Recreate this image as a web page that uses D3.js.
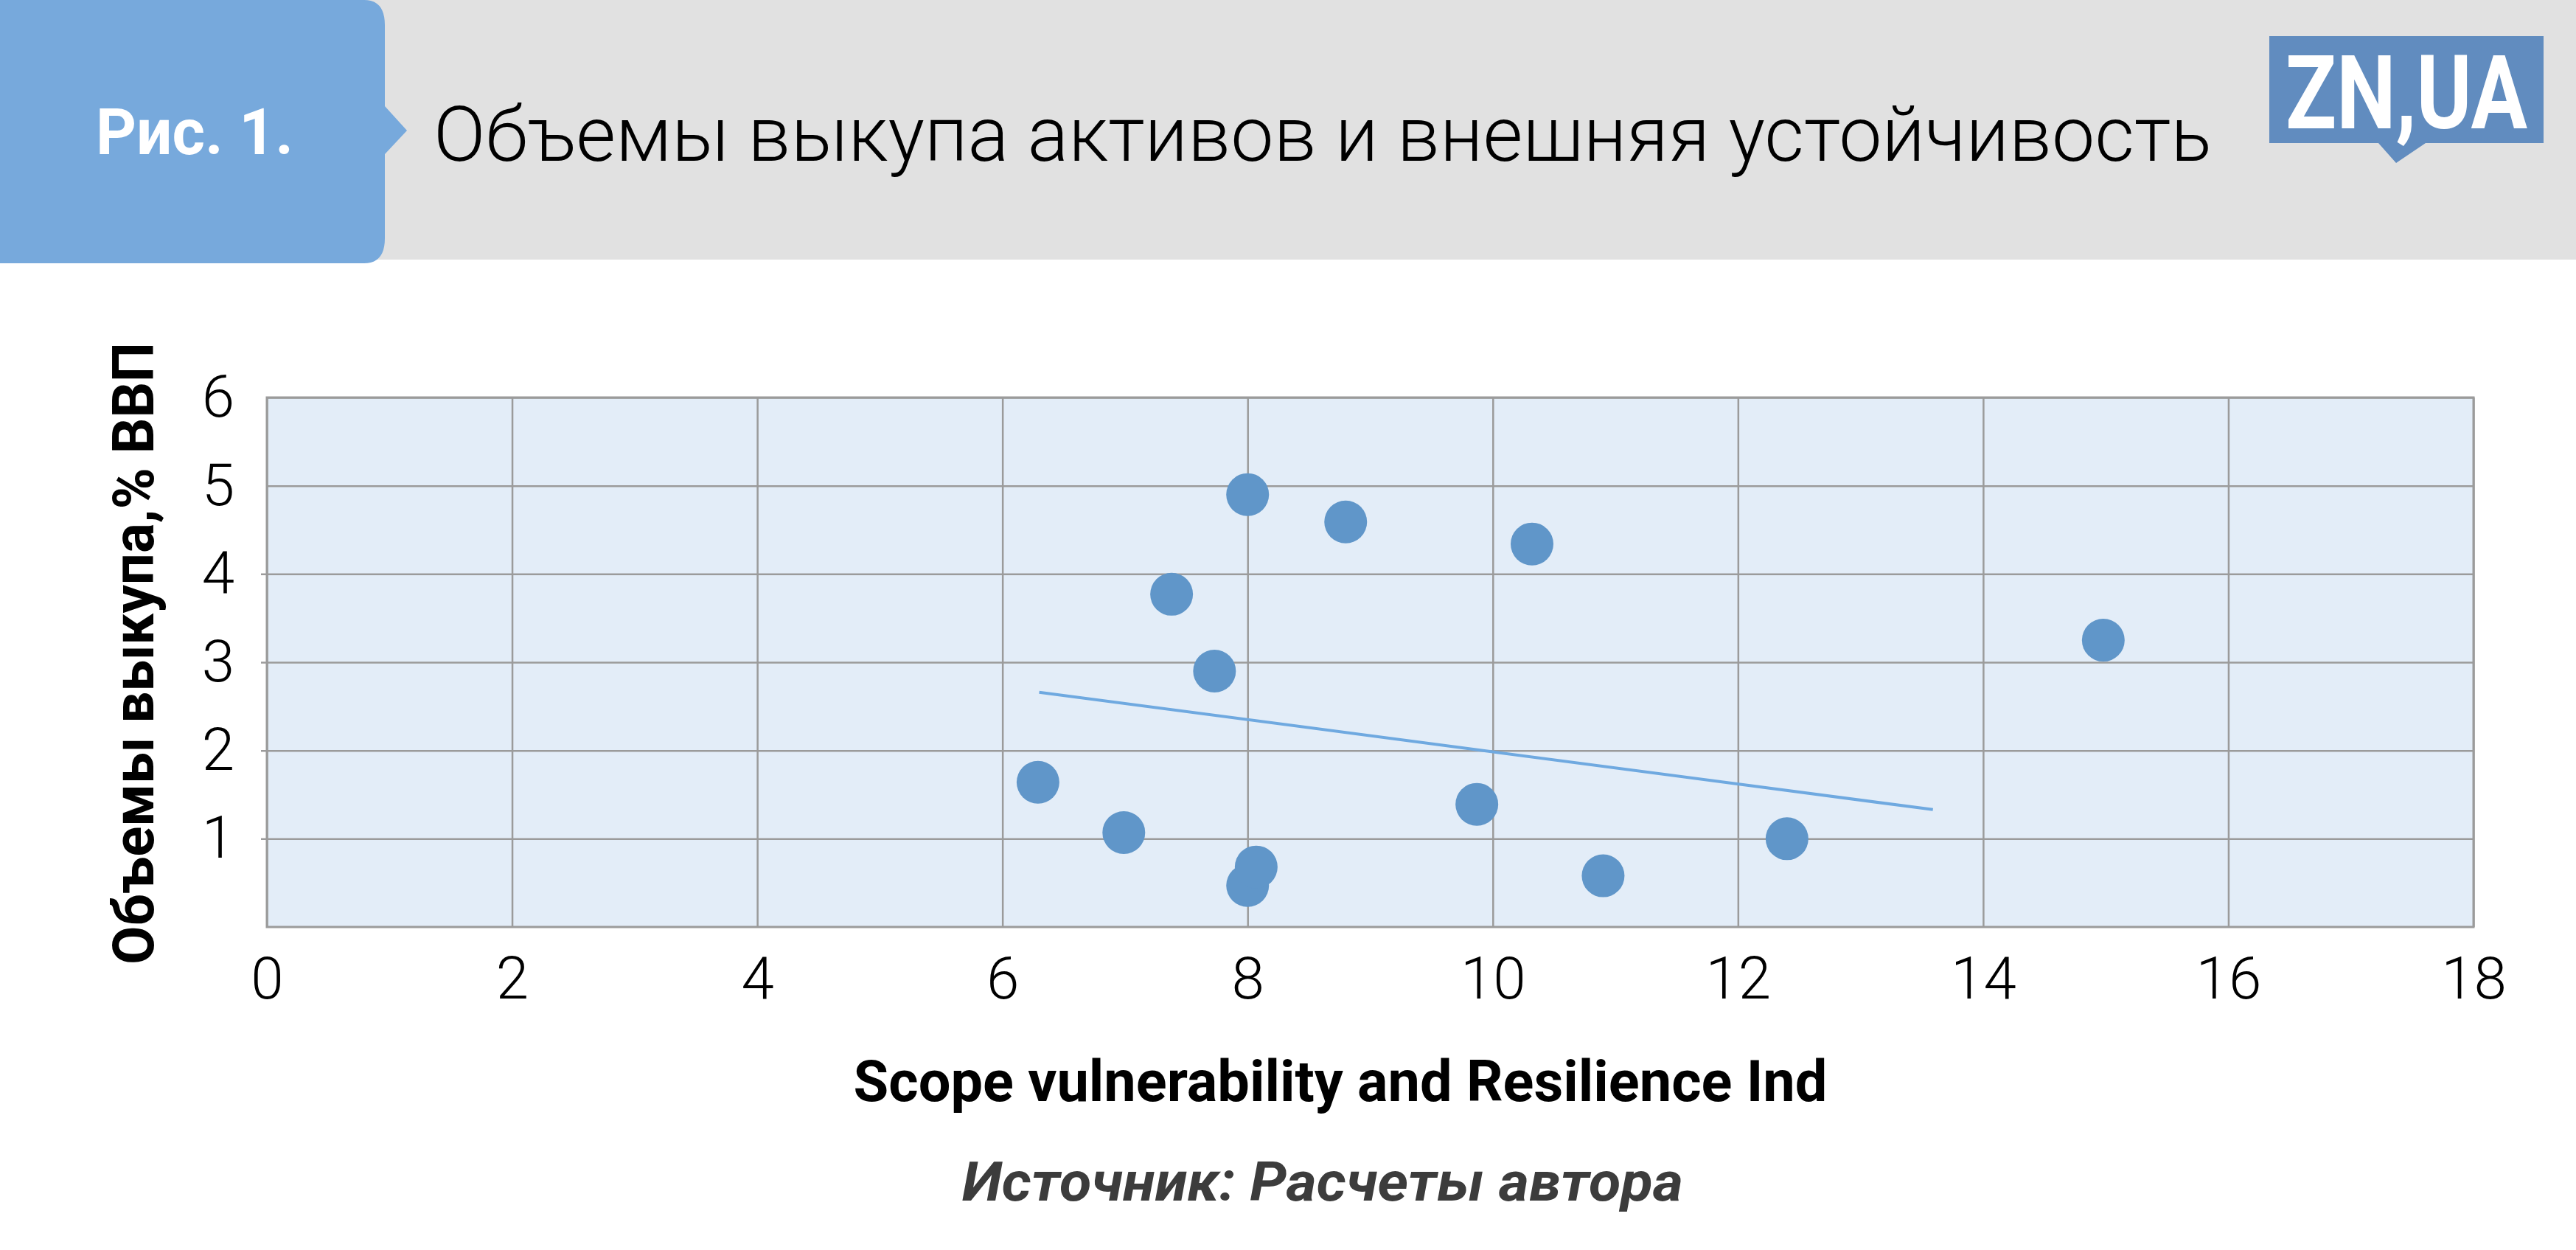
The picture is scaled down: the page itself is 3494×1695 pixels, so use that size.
<!DOCTYPE html>
<html>
<head>
<meta charset="utf-8">
<script src="https://cdn.jsdelivr.net/npm/d3@7"></script>
<style>
  body { margin: 0; background: #fff; }
  svg { display: block; }
  text { font-family: Roboto, "Open Sans", sans-serif; }
</style>
</head>
<body>
<div id="chart"></div>
<script>
// data
var xValues = [8.00, 8.80, 10.32, 7.38, 7.73, 6.29, 6.99, 9.87, 12.40, 8.00, 8.07, 10.90, 14.98];
var yValues = [4.90, 4.59, 4.34, 3.77, 2.90, 1.64, 1.07, 1.39, 1.00, 0.47, 0.68, 0.58, 3.25];
var trendX = [6.30, 13.59];
var trendY = [2.66, 1.33];
var xTicks = [0, 2, 4, 6, 8, 10, 12, 14, 16, 18];
var yTicks = [1, 2, 3, 4, 5, 6];

var W = 3494, H = 1695;
var margin = {top: 539, left: 362, right: W - 3355, bottom: H - 1257};
var plotW = W - margin.left - margin.right,
    plotH = H - margin.top - margin.bottom;

var svg = d3.select("#chart").append("svg").attr("width", W).attr("height", H);

// header
svg.append("rect").attr("x", 0).attr("y", 0).attr("width", W).attr("height", 352).attr("fill", "#e1e1e1");
svg.append("path")
  .attr("d", "M0,0 H494 Q522,0 522,34 V144 L552,177 L522,209 V323 Q522,357 494,357 H0 Z")
  .attr("fill", "#77a9dc");
svg.append("text").attr("x", 130).attr("y", 209).text("Рис. 1.")
  .attr("fill", "#fff").attr("font-size", 88).attr("font-weight", 700)
  .attr("textLength", 268).attr("lengthAdjust", "spacingAndGlyphs");
svg.append("text").attr("x", 588).attr("y", 218).text("Объемы выкупа активов и внешняя устойчивость")
  .attr("fill", "#000").attr("font-size", 103).attr("font-weight", 300)
  .attr("textLength", 2412).attr("lengthAdjust", "spacingAndGlyphs");

// logo
var logo = svg.append("g");
logo.append("path")
  .attr("d", "M3078,49 H3450 V194 H3290 L3250,221 L3226,194 H3078 Z")
  .attr("fill", "#618cbf");
logo.append("text").attr("x", 3100).attr("y", 174).text("ZN,UA")
  .attr("fill", "#fff").attr("font-size", 140).attr("font-weight", 700)
  .attr("textLength", 328).attr("lengthAdjust", "spacingAndGlyphs");

// plot
var x = d3.scaleLinear().domain([0, 18]).range([0, plotW]);
var y = d3.scaleLinear().domain([0, 6]).range([plotH, 0]);

var g = svg.append("g").attr("transform", "translate(" + margin.left + "," + margin.top + ")");
g.append("rect").attr("width", plotW).attr("height", plotH).attr("fill", "#e3edf8");

var xAxis = g.append("g").attr("transform", "translate(0," + plotH + ")")
  .call(d3.axisBottom(x).tickValues(xTicks).tickFormat(d3.format("d")).tickSize(-plotH).tickPadding(40));
var yAxis = g.append("g")
  .call(d3.axisLeft(y).tickValues(yTicks).tickFormat(d3.format("d")).tickSize(-plotW).tickPadding(44));

[xAxis, yAxis].forEach(function(a) {
  a.select(".domain").remove();
  a.selectAll("line").attr("stroke", "#9b9b9b").attr("stroke-width", 2.5);
  a.selectAll("text").attr("font-size", 80).attr("font-weight", 300).attr("fill", "#000")
    .attr("font-family", "Roboto, sans-serif");
});
yAxis.selectAll(".tick line").attr("x1", function(d) { return d <= 4 ? -8 : 0; });

g.append("rect").attr("width", plotW).attr("height", plotH)
  .attr("fill", "none").attr("stroke", "#9b9b9b").attr("stroke-width", 3);

// trend line
g.append("line")
  .attr("x1", x(trendX[0])).attr("y1", y(trendY[0]))
  .attr("x2", x(trendX[1])).attr("y2", y(trendY[1]))
  .attr("stroke", "#6fa9e0").attr("stroke-width", 4);

// points
g.append("g").selectAll("circle")
  .data(xValues.map(function(v, i) { return {x: v, y: yValues[i]}; }))
  .enter().append("circle")
    .attr("cx", function(d) { return x(d.x); })
    .attr("cy", function(d) { return y(d.y); })
    .attr("r", 29)
    .attr("fill", "#6096c9");

// axis titles
svg.append("text").attr("x", 1818).attr("y", 1493).attr("text-anchor", "middle")
  .text("Scope vulnerability and Resilience Ind")
  .attr("font-size", 78).attr("font-weight", 700).attr("fill", "#000")
  .attr("textLength", 1321).attr("lengthAdjust", "spacingAndGlyphs");
svg.append("text").attr("transform", "translate(208,886) rotate(-90)").attr("text-anchor", "middle")
  .text("Объемы выкупа,% ВВП")
  .attr("font-size", 78).attr("font-weight", 700).attr("fill", "#000")
  .attr("textLength", 844).attr("lengthAdjust", "spacingAndGlyphs");
svg.append("text").attr("x", 1794).attr("y", 1628).attr("text-anchor", "middle")
  .text("Источник: Расчеты автора")
  .attr("font-size", 74).attr("font-weight", 700).attr("font-style", "italic").attr("fill", "#3c3c3c")
  .attr("textLength", 978).attr("lengthAdjust", "spacingAndGlyphs");
</script>
</body>
</html>
